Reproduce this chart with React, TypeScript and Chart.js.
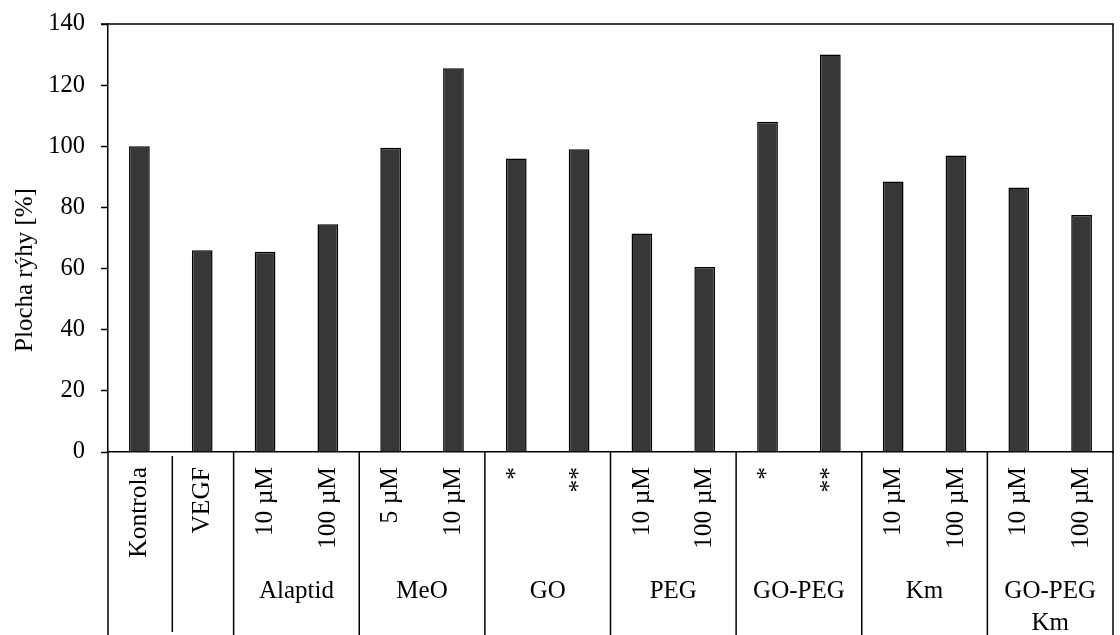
import React, { useEffect, useRef } from "react";
import { Chart, registerables } from "chart.js";

Chart.register(...registerables);

const categories = [
  "Kontrola", "VEGF", "Alaptid 10 µM", "Alaptid 100 µM", "MeO 5 µM", "MeO 10 µM",
  "GO *", "GO **", "PEG 10 µM", "PEG 100 µM", "GO-PEG *", "GO-PEG **",
  "Km 10 µM", "Km 100 µM", "GO-PEG Km 10 µM", "GO-PEG Km 100 µM",
];
const values = [100, 66, 65.5, 74.5, 99.5, 125.5, 96, 99, 71.5, 60.5, 108, 130, 88.5, 97, 86.5, 77.5];
const subLabels = [
  "Kontrola", "VEGF", "10 µM", "100 µM", "5 µM", "10 µM", "*", "**",
  "10 µM", "100 µM", "*", "**", "10 µM", "100 µM", "10 µM", "100 µM",
];
const groupNames = [["Alaptid"], ["MeO"], ["GO"], ["PEG"], ["GO-PEG"], ["Km"], ["GO-PEG", "Km"]];
const groupStarts = [2, 4, 6, 8, 10, 12, 14];
const groupSizes = [2, 2, 2, 2, 2, 2, 2];
const yTitle = "Plocha rýhy [%]";

const FONT = '"Liberation Serif", "Times New Roman", serif';

const labelPlugin = {
  id: "labelPlugin",
  afterDraw(chart: any) {
    const { ctx, chartArea } = chart;
    const x = chart.scales.x;
    const n = categories.length;
    const step = (chartArea.right - chartArea.left) / n;
    const H = chart.height;
    ctx.save();
    ctx.strokeStyle = "#000";
    ctx.lineWidth = 1.5;
    // frame top & right
    ctx.beginPath();
    ctx.moveTo(chartArea.left - 7, chartArea.top);
    ctx.lineTo(chartArea.right, chartArea.top);
    ctx.lineTo(chartArea.right, H);
    ctx.stroke();
    // left continuation
    ctx.beginPath();
    ctx.moveTo(chartArea.left, chartArea.bottom);
    ctx.lineTo(chartArea.left, H);
    ctx.stroke();
    // group dividers
    groupStarts.forEach((s) => {
      const bx = chartArea.left + s * step;
      ctx.beginPath();
      ctx.moveTo(bx, chartArea.bottom);
      ctx.lineTo(bx, H);
      ctx.stroke();
    });
    // Kontrola / VEGF divider (shorter)
    const b1 = chartArea.left + step + 1.5;
    ctx.beginPath();
    ctx.moveTo(b1, chartArea.bottom + 4);
    ctx.lineTo(b1, H - 3);
    ctx.stroke();

    ctx.fillStyle = "#000";
    // y axis title
    ctx.save();
    ctx.font = "25px " + FONT;
    ctx.translate(25, 270);
    ctx.rotate(-Math.PI / 2);
    ctx.textAlign = "center";
    ctx.textBaseline = "middle";
    ctx.fillText(yTitle, 0, 0);
    ctx.restore();

    ctx.font = "25.5px " + FONT;
    subLabels.forEach((t, i) => {
      const cx = x.getPixelForValue(i);
      ctx.save();
      ctx.translate(cx, chartArea.bottom + 15);
      ctx.rotate(-Math.PI / 2);
      ctx.textAlign = "right";
      ctx.textBaseline = "middle";
      ctx.fillText(t, 0, 0);
      ctx.restore();
    });
    ctx.font = "25px " + FONT;
    ctx.textAlign = "center";
    ctx.textBaseline = "middle";
    groupNames.forEach((lines, g) => {
      const cx = chartArea.left + (groupStarts[g] + groupSizes[g] / 2) * step;
      lines.forEach((ln, k) => {
        ctx.fillText(ln, cx, chartArea.bottom + 139 + k * 32);
      });
    });
    ctx.restore();
  },
};

export default function App() {
  const ref = useRef<HTMLCanvasElement>(null);
  useEffect(() => {
    if (!ref.current) return;
    const chart = new Chart(ref.current, {
      type: "bar",
      data: {
        labels: categories,
        datasets: [
          {
            data: values,
            backgroundColor: "#393735",
            borderColor: "#000",
            borderWidth: 1.5,
            barPercentage: 0.33,
            categoryPercentage: 1,
          },
        ],
      },
      options: {
        responsive: false,
        animation: false,
        layout: { padding: { top: 24, right: 7, left: 0, bottom: 0 } },
        plugins: { legend: { display: false }, tooltip: { enabled: false } },
        scales: {
          x: {
            ticks: { display: false },
            grid: { display: false },
            border: { display: true, color: "#000", width: 1.5 },
            afterFit: (s: any) => {
              s.height = 183;
              s.paddingLeft = 0;
              s.paddingRight = 0;
            },
          },
          y: {
            min: 0,
            max: 140,
            ticks: { stepSize: 20, color: "#000", font: { family: FONT, size: 24.5 }, padding: 16 },
            grid: { drawOnChartArea: false, tickLength: 7, tickColor: "#000", tickWidth: 1.5 },
            border: { display: true, color: "#000", width: 1.5 },
            afterFit: (s: any) => {
              s.width = 108;
              s.paddingTop = 0;
              s.paddingBottom = 0;
            },
          },
        },
      },
      plugins: [labelPlugin],
    });
    return () => chart.destroy();
  }, []);
  return (
    <div style={{ position: "absolute", left: 0, top: 0, width: 1120, height: 635, background: "#fff" }}>
      <canvas ref={ref} width={1120} height={635} />
    </div>
  );
}
